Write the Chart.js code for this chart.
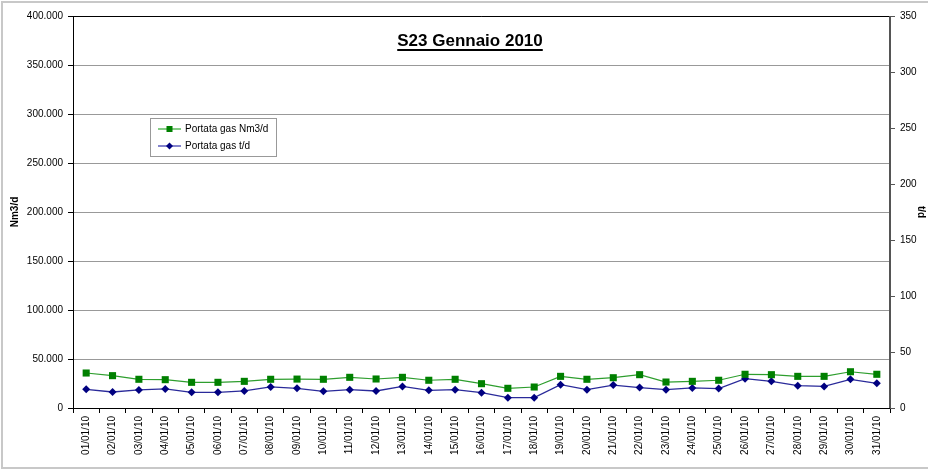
<!DOCTYPE html>
<html>
<head>
<meta charset="utf-8">
<script src="https://cdn.jsdelivr.net/npm/chart.js@4/dist/chart.umd.min.js"></script>
<style>
  html, body { margin: 0; padding: 0; background: #fff; }
  #wrap { width: 928px; height: 470px; }
</style>
</head>
<body>
<div id="wrap"><canvas id="chart"></canvas></div>
<script>
const days = [
  "01/01/10", "02/01/10", "03/01/10", "04/01/10", "05/01/10", "06/01/10", "07/01/10", "08/01/10",
  "09/01/10", "10/01/10", "11/01/10", "12/01/10", "13/01/10", "14/01/10", "15/01/10", "16/01/10",
  "17/01/10", "18/01/10", "19/01/10", "20/01/10", "21/01/10", "22/01/10", "23/01/10", "24/01/10",
  "25/01/10", "26/01/10", "27/01/10", "28/01/10", "29/01/10", "30/01/10", "31/01/10"
];

// Portata gas Nm3/d (left axis)
const portataNm3 = [
  35700, 33000, 29300, 28900, 26200, 26200, 27200, 29300,
  29500, 29300, 31300, 29600, 31300, 28300, 29300, 24800,
  20100, 21400, 32300, 29300, 30900, 34000, 26500, 27200,
  28300, 34400, 34000, 32300, 32300, 37000, 34400
];

// Portata gas t/d (right axis)
const portataT = [
  16.7, 14.3, 16.1, 17.0, 14.0, 14.0, 15.2, 18.8,
  17.6, 14.9, 16.4, 15.2, 19.3, 15.8, 16.4, 13.7,
  9.2, 9.2, 20.8, 16.4, 20.5, 18.2, 16.4, 17.9,
  17.3, 26.2, 23.8, 19.9, 19.3, 25.6, 22.0
];

const chartTitle = "S23 Gennaio 2010";
const leftTitle = "Nm3/d";
const rightTitle = "t/d";

const FONT = "Arial, 'Liberation Sans', sans-serif";
const GREEN = "#008000";
const BLUE = "#000080";

// formats 50000 as 50.000
function itNumber(v) {
  return String(v).replace(/\B(?=(\d{3})+(?!\d))/g, ".");
}

const decorations = {
  id: "decorations",
  beforeDraw(chart) {
    const ctx = chart.ctx;
    ctx.save();
    ctx.fillStyle = "#fff";
    ctx.fillRect(0, 0, chart.width, chart.height);
    ctx.restore();
  },
  afterDraw(chart) {
    const ctx = chart.ctx;
    const a = chart.chartArea;
    ctx.save();

    // plot frame
    ctx.strokeStyle = "#000";
    ctx.lineWidth = 1;
    ctx.beginPath();
    ctx.moveTo(a.left + 0.5, a.bottom);
    ctx.lineTo(a.left + 0.5, a.top + 0.5);
    ctx.lineTo(a.right, a.top + 0.5);
    ctx.stroke();
    ctx.strokeStyle = "#555";
    ctx.beginPath();
    ctx.moveTo(a.right - 0.5, a.top);
    ctx.lineTo(a.right - 0.5, a.bottom);
    ctx.stroke();

    // outer border (right edge falls outside the picture)
    ctx.strokeStyle = "#c8c8c8";
    ctx.lineWidth = 2;
    ctx.beginPath();
    ctx.moveTo(chart.width, 2);
    ctx.lineTo(2, 2);
    ctx.lineTo(2, chart.height - 2);
    ctx.lineTo(chart.width, chart.height - 2);
    ctx.stroke();

    // title, bold + underlined
    ctx.font = "bold 17px " + FONT;
    ctx.fillStyle = "#000";
    ctx.textAlign = "center";
    ctx.textBaseline = "alphabetic";
    const tx = 470, ty = 46;
    ctx.fillText(chartTitle, tx, ty);
    const tw = ctx.measureText(chartTitle).width;
    ctx.fillRect(tx - tw / 2, ty + 3, tw, 2);

    // legend box
    const lx = 150, ly = 118, lw = 126, lh = 38;
    ctx.fillStyle = "#fff";
    ctx.fillRect(lx, ly, lw, lh);
    ctx.strokeStyle = "#999";
    ctx.lineWidth = 1;
    ctx.strokeRect(lx + 0.5, ly + 0.5, lw, lh);
    const rows = [
      { label: "Portata gas Nm3/d", color: GREEN, line: "#33aa33", marker: "square" },
      { label: "Portata gas t/d", color: BLUE, line: "#3333aa", marker: "diamond" }
    ];
    ctx.font = "10px " + FONT;
    ctx.textAlign = "left";
    ctx.textBaseline = "middle";
    rows.forEach((r, i) => {
      const y = ly + 11 + i * 17;
      ctx.strokeStyle = r.line;
      ctx.lineWidth = 1.2;
      ctx.beginPath();
      ctx.moveTo(lx + 8, y);
      ctx.lineTo(lx + 31, y);
      ctx.stroke();
      ctx.fillStyle = r.color;
      if (r.marker === "square") {
        ctx.fillRect(lx + 16.5, y - 3, 6, 6);
      } else {
        ctx.beginPath();
        ctx.moveTo(lx + 19.5, y - 3.5);
        ctx.lineTo(lx + 23, y);
        ctx.lineTo(lx + 19.5, y + 3.5);
        ctx.lineTo(lx + 16, y);
        ctx.closePath();
        ctx.fill();
      }
      ctx.fillStyle = "#000";
      ctx.fillText(r.label, lx + 35, y);
    });
    ctx.restore();
  }
};

new Chart(document.getElementById("chart"), {
  type: "line",
  data: {
    labels: days,
    datasets: [
      {
        label: "Portata gas Nm3/d",
        data: portataNm3,
        yAxisID: "y",
        borderColor: "#2e9e2e",
        backgroundColor: GREEN,
        borderWidth: 1.2,
        pointStyle: "rect",
        pointRadius: 5,
        pointBorderWidth: 0,
        pointBackgroundColor: GREEN,
        tension: 0
      },
      {
        label: "Portata gas t/d",
        data: portataT,
        yAxisID: "y1",
        borderColor: "#2a2a9a",
        backgroundColor: BLUE,
        borderWidth: 1.3,
        pointStyle: "rectRot",
        pointRadius: 4,
        pointBorderWidth: 0,
        pointBackgroundColor: BLUE,
        tension: 0
      }
    ]
  },
  options: {
    responsive: true,
    maintainAspectRatio: false,
    animation: false,
    layout: { padding: { top: 16, left: 0, right: 0, bottom: 0 } },
    plugins: {
      legend: { display: false },
      tooltip: { enabled: false }
    },
    scales: {
      x: {
        offset: true,
        grid: {
          display: true,
          offset: true,
          drawOnChartArea: false,
          drawTicks: true,
          tickLength: 5,
          color: "#000"
        },
        border: { color: "#000", width: 1 },
        ticks: {
          autoSkip: false,
          maxRotation: 90,
          minRotation: 90,
          color: "#000",
          font: { family: FONT, size: 10 },
          padding: 3
        },
        afterFit(s) { s.height = 62; }
      },
      y: {
        position: "left",
        min: 0,
        max: 400000,
        grid: { color: "#999", lineWidth: 1, tickLength: 5, tickColor: "#000" },
        border: { color: "#000", width: 1 },
        ticks: {
          stepSize: 50000,
          color: "#000",
          font: { family: FONT, size: 10 },
          padding: 5,
          callback: v => itNumber(v)
        },
        title: {
          display: true,
          text: leftTitle,
          color: "#000",
          font: { family: FONT, size: 10, weight: "bold" },
          padding: { top: 9, bottom: 0 }
        },
        afterFit(s) { s.width = 73; }
      },
      y1: {
        position: "right",
        min: 0,
        max: 350,
        grid: { drawOnChartArea: false, tickLength: 5, tickColor: "#555" },
        border: { color: "#555", width: 1 },
        ticks: {
          stepSize: 50,
          color: "#000",
          font: { family: FONT, size: 10 },
          padding: 5
        },
        title: {
          display: true,
          text: rightTitle,
          color: "#000",
          font: { family: FONT, size: 10, weight: "bold" },
          padding: { top: 1, bottom: 0 }
        },
        afterFit(s) { s.width = 38; }
      }
    }
  },
  plugins: [decorations]
});
</script>
</body>
</html>
